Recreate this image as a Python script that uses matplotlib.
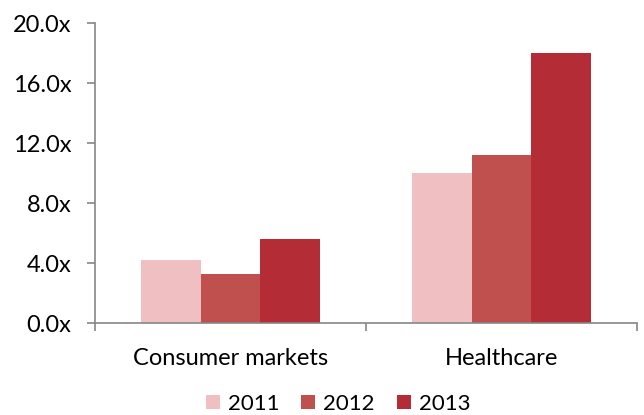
import matplotlib
matplotlib.use("Agg")
import matplotlib.pyplot as plt
import numpy as np

categories = ["Consumer markets", "Healthcare"]
years = ["2011", "2012", "2013"]
values_2011 = [4.2, 10.0]
values_2012 = [3.3, 11.2]
values_2013 = [5.6, 18.0]
y_ticks = [0, 4, 8, 12, 16, 20]
y_tick_labels = ["0.0x", "4.0x", "8.0x", "12.0x", "16.0x", "20.0x"]

colors = ["#EFBFC2", "#C0504D", "#B42C35"]
axis_color = "#868686"
font_size = 17

plt.rcParams["font.family"] = ["Lato", "DejaVu Sans"]

fig = plt.figure(figsize=(6.44, 4.15), dpi=100)
ax = fig.add_axes([95 / 644, 1 - 323 / 415, 542 / 644, 300 / 415])

x = np.arange(len(categories))
bar_w = 0.664 / 3
series = [values_2011, values_2012, values_2013]
for i, (vals, year) in enumerate(zip(series, years)):
    ax.bar(x + (i - 1) * bar_w, vals, width=bar_w, color=colors[i],
           label=year, edgecolor="none", zorder=2)

ax.set_xlim(-0.5, 1.5)
ax.set_ylim(0, 20)
ax.set_yticks(y_ticks)
ax.set_yticklabels(y_tick_labels)
ax.set_xticks([-0.5, 0.5, 1.5], minor=False)
ax.set_xticklabels([])
ax.set_xticks(x, minor=True)
ax.set_xticklabels(categories, minor=True)
ax.tick_params(axis="x", which="minor", length=0, pad=18, labelsize=font_size)
ax.tick_params(axis="x", which="major", length=6, width=1.2, color=axis_color, direction="out")
ax.tick_params(axis="y", length=6, width=1.2, color=axis_color, direction="out",
               labelsize=font_size, pad=11)

for s in ["top", "right"]:
    ax.spines[s].set_visible(False)
for s in ["left", "bottom"]:
    ax.spines[s].set_color(axis_color)
    ax.spines[s].set_linewidth(1.2)

leg = fig.legend(loc="center", bbox_to_anchor=(338 / 644, 1 - 404 / 415), ncol=3,
                 frameon=False, fontsize=16, handlelength=0.63, handleheight=0.63,
                 handletextpad=0.35, columnspacing=1.0, borderpad=0)

fig.savefig("out.png", dpi=100)
